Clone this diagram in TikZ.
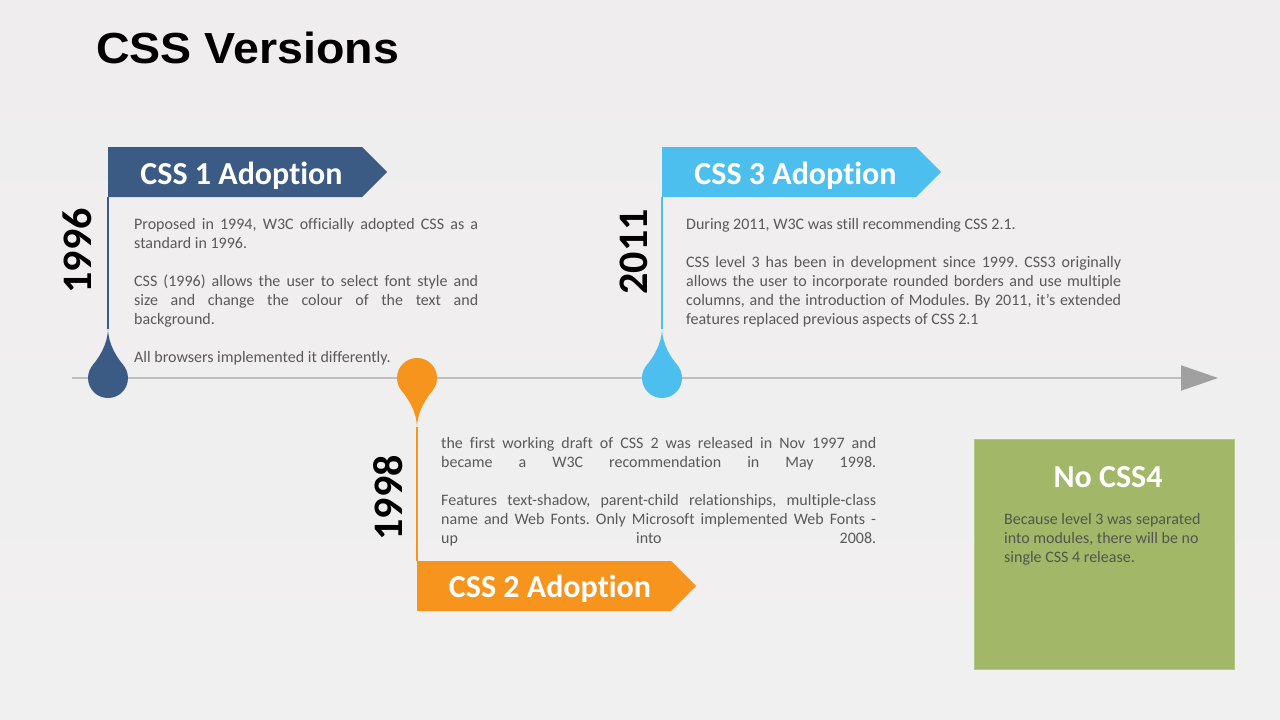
\documentclass[tikz,border=0pt]{standalone}
\usepackage{fontspec}
\setmainfont[Ligatures=NoCommon]{Carlito}
\newfontfamily\titlefont{Liberation Sans}
\usetikzlibrary{shapes.symbols,arrows.meta}
\frenchspacing

\definecolor{bgtop}{RGB}{239,237,238}
\definecolor{bgbot}{RGB}{241,240,240}
\definecolor{cssone}{RGB}{59,91,132}
\definecolor{csstwo}{RGB}{247,148,30}
\definecolor{cssthree}{RGB}{77,191,238}
\definecolor{cssfour}{RGB}{162,184,104}
\definecolor{cssfouredge}{RGB}{180,199,132}
\definecolor{bodygray}{RGB}{89,89,89}
\definecolor{greentext}{RGB}{82,86,78}
\definecolor{axisgray}{RGB}{190,190,190}
\definecolor{tipgray}{RGB}{160,160,160}

% one line of a text block: justified to the full width, or ragged
\newcommand\jl[1]{\hbox to\hsize{#1}}
\newcommand\rl[1]{\hbox to\hsize{#1\hfil}}
\newcommand\bl{\hbox{}}
\newcommand\txtblock[2]{\vtop{\hsize=#1\relax\fontsize{16}{19}\selectfont #2}}

\tikzset{
  banner/.style={shape=signal, signal to=east, signal pointer angle=90,
    minimum width=279pt, minimum height=50pt, inner sep=0pt, anchor=west},
  bantext/.style={text=white, font=\bfseries\fontsize{32}{32}\selectfont,
    anchor=base, inner sep=0pt},
  yearlabel/.style={font=\bfseries\fontsize{42}{42}\selectfont, rotate=90,
    inner sep=0pt, text=black},
  bodytext/.style={text=bodygray, anchor=base west, inner sep=0pt},
  stem/.style={line width=1.6pt},
  droppin/.pic={
    \fill (0,-50) .. controls (0,-34) and (-8.9,-20.6) .. (-15.3,-12.9)
      -- (0,0) -- (15.3,-12.9) .. controls (8.9,-20.6) and (0,-34) .. (0,-50) -- cycle;
    \fill (0,0) circle[radius=20];
    \coordinate (-tip) at (0,-49);
  }
}

\begin{document}
\begin{tikzpicture}[x=1pt,y=-1pt]
\useasboundingbox (0,0) rectangle (1280,720);
\fill[top color=bgtop, bottom color=bgbot] (0,0) rectangle (1280,720);

% heading
\node[font=\titlefont\bfseries\fontsize{43.5}{44}\selectfont, anchor=base west,
  inner sep=0pt, xscale=1.07] (title) at (96,63) {CSS Versions};

% time axis
\coordinate (ax0) at (72,378);
\coordinate (ax1) at (1218,378);
\draw[axisgray, line width=2pt,
  -{Triangle[length=37pt,width=25pt,color=tipgray]}] (ax0) -- (ax1);

% CSS 1
\node[banner, fill=cssone] (b1) at (108,172) {};
\node[bantext] (b1t) at (241.5,184) {CSS 1 Adoption};
\pic[color=cssone] (d1) at (108,378) {droppin};
\draw[stem, cssone] (b1.west |- b1.south) -- (d1-tip);
\node[yearlabel] (y1) at (77.5,251) {1996};
\node[bodytext] (p1) at (134,229) {\txtblock{344pt}{%
  \jl{Proposed in 1994, W3C officially adopted CSS as a}
  \rl{standard in 1996.}
  \bl
  \jl{CSS (1996) allows the user to select font style and}
  \jl{size and change the colour of the text and}
  \rl{background.}
  \bl
  \rl{All browsers implemented it differently.}}};

% CSS 2
\node[banner, fill=csstwo] (b2) at (417,586) {};
\node[bantext] (b2t) at (550,597.5) {CSS 2 Adoption};
\pic[color=csstwo, yscale=-1] (d2) at (417,378) {droppin};
\draw[stem, csstwo] (b2.west |- b2.north) -- (d2-tip);
\node[yearlabel] (y2) at (388,498) {1998};
\node[bodytext] (p2) at (441,448) {\txtblock{435pt}{%
  \jl{the first working draft of CSS 2 was released in Nov 1997 and}
  \jl{became a W3C recommendation in May 1998.}
  \bl
  \jl{Features text-shadow, parent-child relationships, multiple-class}
  \jl{name and Web Fonts. Only Microsoft implemented Web Fonts -}
  \jl{up into 2008.}}};

% CSS 3
\node[banner, fill=cssthree] (b3) at (662,172) {};
\node[bantext] (b3t) at (795.5,184) {CSS 3 Adoption};
\pic[color=cssthree] (d3) at (662,378) {droppin};
\draw[stem, cssthree] (b3.west |- b3.south) -- (d3-tip);
\node[yearlabel] (y3) at (633.5,252) {2011};
\node[bodytext] (p3) at (686,229) {\txtblock{435pt}{%
  \rl{During 2011, W3C was still recommending CSS 2.1.}
  \bl
  \jl{CSS level 3 has been in development since 1999. CSS3 originally}
  \jl{allows the user to incorporate rounded borders and use multiple}
  \jl{columns, and the introduction of Modules. By 2011, it’s extended}
  \rl{features replaced previous aspects of CSS 2.1}}};

% no CSS 4
\node[fill=cssfour, draw=cssfouredge, line width=1pt, minimum width=260pt,
  minimum height=230pt, inner sep=0pt] (g) at (1104,554) {};
\node[bantext] (gt) at (1108,487) {No CSS4};
\node[bodytext, text=greentext] (gp) at (1004,524.5) {\txtblock{225pt}{%
  \rl{Because level 3 was separated}
  \rl{into modules, there will be no}
  \rl{single CSS 4 release.}}};
\end{tikzpicture}
\end{document}
